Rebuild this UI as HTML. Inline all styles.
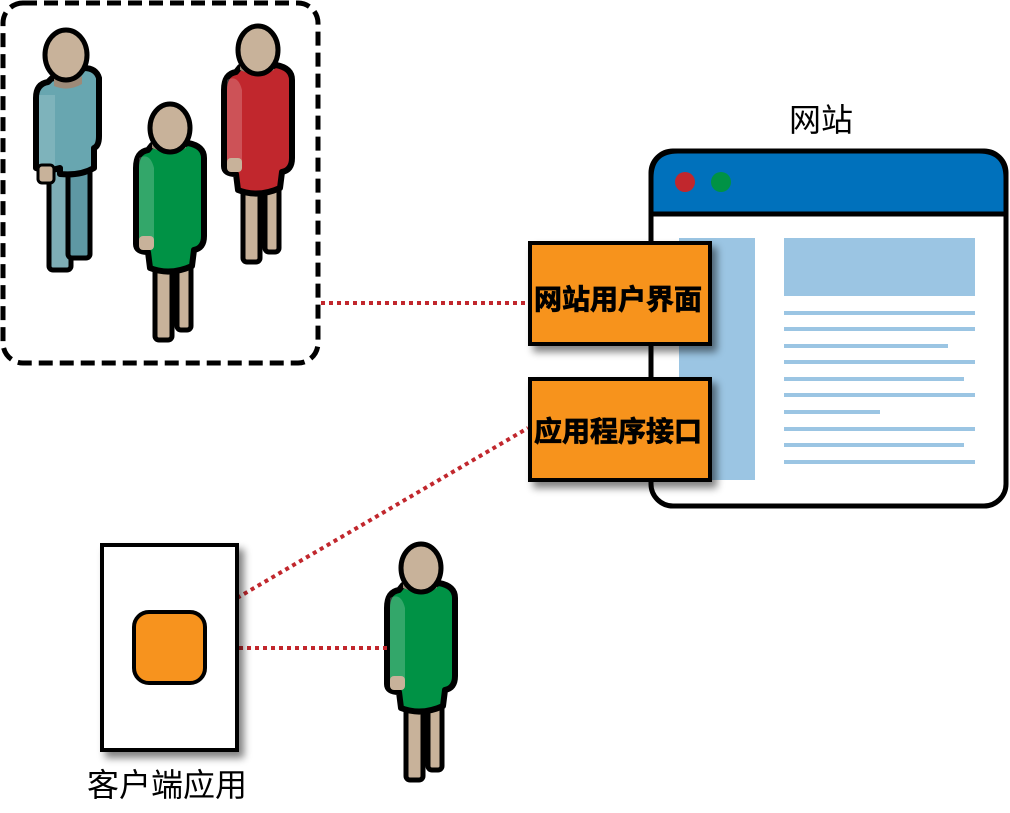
<!DOCTYPE html>
<html><head><meta charset="utf-8"><style>
html,body{margin:0;padding:0;background:#fff;}
svg{display:block;}
text{font-family:"Liberation Sans","Noto Sans CJK SC",sans-serif;}
</style></head><body>
<svg width="1010" height="813" viewBox="0 0 1010 813" xmlns="http://www.w3.org/2000/svg">
<defs>
  <filter id="sh" x="-20%" y="-20%" width="150%" height="150%">
    <feGaussianBlur in="SourceAlpha" stdDeviation="4"/>
    <feOffset dx="5" dy="6"/>
    <feComponentTransfer><feFuncA type="linear" slope="0.5"/></feComponentTransfer>
    <feMerge><feMergeNode/><feMergeNode in="SourceGraphic"/></feMerge>
  </filter>
  <g id="w">
    <rect x="-15" y="120" width="17" height="92" rx="4" fill="#c8b29a" stroke="#000" stroke-width="5"/>
    <rect x="7" y="120" width="14" height="82" rx="4" fill="#c8b29a" stroke="#000" stroke-width="5"/>
    <path d="M-22,22 Q-34,24 -34,40 L-34,116 Q-34,124 -22,124 L-20,140 Q0,148 22,138 L24,122 Q34,120 34,108 L34,30 Q34,18 18,15 Q0,24 -18,17 Z" fill="currentColor" stroke="#000" stroke-width="6" stroke-linejoin="round"/>
    <path d="M-31,30 Q-20,24 -16,40 L-16,112 L-31,112 Z" fill="#fff" fill-opacity="0.2"/>
    <rect x="-31" y="108" width="15" height="14" rx="4" fill="#c8b29a"/>
    <path d="M-18,14 Q0,22 16,13 L16,20 Q0,28 -18,20 Z" fill="#9c8a78"/>
    <ellipse cx="0" cy="0" rx="20" ry="24" fill="#c8b29a" stroke="#000" stroke-width="5"/>
  </g>
</defs>

<rect x="3" y="3" width="315" height="360" rx="20" fill="none" stroke="#000" stroke-width="5" stroke-dasharray="14 7"/>

<g>
  <rect x="49" y="160" width="22" height="110" rx="4" fill="#7eaeb6" stroke="#000" stroke-width="5"/>
  <rect x="68" y="160" width="22" height="98" rx="4" fill="#5e98a3" stroke="#000" stroke-width="5"/>
  <path d="M48,82 Q36,84 36,98 L36,168 Q48,172 60,168 L60,174 Q80,176 94,168 L94,148 Q99,146 99,136 L99,78 Q96,68 84,68 Q70,80 52,78 Z" fill="#68a6b0" stroke="#000" stroke-width="6" stroke-linejoin="round"/>
  <rect x="39" y="95" width="16" height="72" fill="#fff" fill-opacity="0.15"/>
  <rect x="38" y="165" width="16" height="18" rx="4" fill="#c8b29a" stroke="#000" stroke-width="3"/>
  <path d="M54,78 Q70,86 82,76 L82,84 Q68,92 54,86 Z" fill="#9c8a78"/>
  <ellipse cx="66" cy="55" rx="21" ry="25" fill="#c8b29a" stroke="#000" stroke-width="5"/>
</g>
<use href="#w" transform="translate(258,50)" style="color:#c1272d"/>
<use href="#w" transform="translate(170,128)" style="color:#009245"/>
<use href="#w" transform="translate(421,568)" style="color:#009245"/>

<g stroke="#c1272d" stroke-width="4" stroke-dasharray="4 4" fill="none">
  <line x1="321" y1="303" x2="528" y2="303"/>
  <line x1="237" y1="598" x2="528" y2="428"/>
  <line x1="239" y1="648" x2="390" y2="648"/>
</g>

<rect x="651" y="151" width="355" height="355" rx="22" fill="#fff" stroke="#000" stroke-width="5"/>
<path d="M651,214 L651,178 Q651,151 678,151 L979,151 Q1006,151 1006,178 L1006,214 Z" fill="#0071bc" stroke="#000" stroke-width="5"/>
<line x1="651" y1="214" x2="1006" y2="214" stroke="#000" stroke-width="5"/>
<circle cx="685" cy="182" r="10" fill="#c1272d"/>
<circle cx="721" cy="182" r="10" fill="#009245"/>
<rect x="679" y="238" width="76" height="242" fill="#9bc5e3"/>
<rect x="784" y="238" width="191" height="58" fill="#9bc5e3"/>
<g stroke="#9bc5e3" stroke-width="4">
  <line x1="784" y1="313" x2="975" y2="313"/>
  <line x1="784" y1="329" x2="975" y2="329"/>
  <line x1="784" y1="346" x2="948" y2="346"/>
  <line x1="784" y1="362" x2="975" y2="362"/>
  <line x1="784" y1="379" x2="964" y2="379"/>
  <line x1="784" y1="395" x2="975" y2="395"/>
  <line x1="784" y1="412" x2="880" y2="412"/>
  <line x1="784" y1="429" x2="975" y2="429"/>
  <line x1="784" y1="445" x2="964" y2="445"/>
  <line x1="784" y1="462" x2="975" y2="462"/>
</g>
<text x="821" y="131" font-size="32" text-anchor="middle" fill="#000">网站</text>

<g filter="url(#sh)">
  <rect x="530" y="243" width="180" height="101" fill="#f7931e" stroke="#000" stroke-width="4"/>
  <rect x="530" y="379" width="180" height="101" fill="#f7931e" stroke="#000" stroke-width="4"/>
</g>
<text x="618" y="309" font-size="28" font-weight="bold" text-anchor="middle" fill="#000" stroke="#000" stroke-width="0.8">网站用户界面</text>
<text x="618" y="441" font-size="28" font-weight="bold" text-anchor="middle" fill="#000" stroke="#000" stroke-width="0.8">应用程序接口</text>

<g filter="url(#sh)">
  <rect x="102" y="545" width="135" height="205" fill="#fff" stroke="#000" stroke-width="4"/>
</g>
<rect x="134" y="612" width="71" height="71" rx="15" fill="#f7931e" stroke="#000" stroke-width="4"/>
<text x="167" y="796" font-size="32" text-anchor="middle" fill="#000">客户端应用</text>
</svg>
</body></html>
